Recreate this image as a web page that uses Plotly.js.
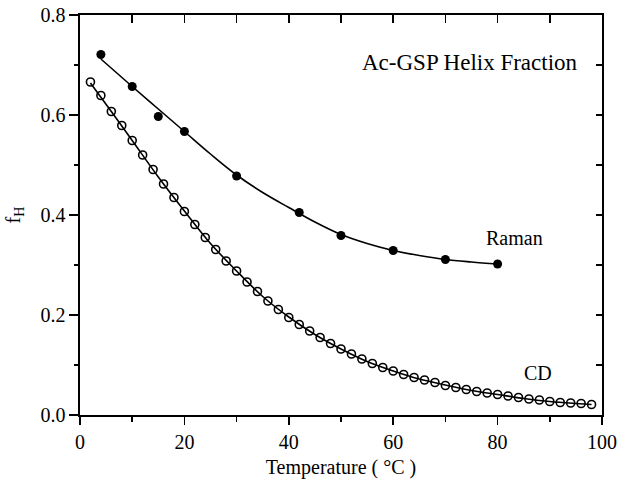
<!DOCTYPE html>
<html>
<head>
<meta charset="utf-8">
<script src="https://cdn.plot.ly/plotly-3.0.1.min.js"></script>
<style>html,body{margin:0;padding:0;background:#fff;}#chart{width:624px;height:486px;}</style>
</head>
<body>
<div id="chart"></div>
<script>
// Raman data (filled circles)
const ramanT = [4, 10, 15, 20, 30, 42, 50, 60, 70, 80];
const ramanF = [0.721, 0.657, 0.597, 0.567, 0.478, 0.405, 0.359, 0.329, 0.311, 0.302];
// Raman fit curve
const ramanFitT = [4, 10, 15, 20, 25, 30, 35, 40, 45, 50, 55, 60, 65, 70, 75, 80];
const ramanFitF = [0.712, 0.657, 0.612, 0.567, 0.522, 0.480, 0.445, 0.415, 0.386, 0.361, 0.343, 0.329, 0.319, 0.311, 0.306, 0.302];
// CD data (open circles)
const cdT = [2,4,6,8,10,12,14,16,18,20,22,24,26,28,30,32,34,36,38,40,42,44,46,48,50,52,54,56,58,60,62,64,66,68,70,72,74,76,78,80,82,84,86,88,90,92,94,96,98];
const cdF = [0.666,0.639,0.607,0.579,0.549,0.520,0.491,0.462,0.435,0.407,0.381,0.355,0.331,0.308,0.288,0.266,0.247,0.228,0.211,0.195,0.181,0.168,0.155,0.143,0.132,0.122,0.112,0.103,0.095,0.088,0.081,0.075,0.070,0.065,0.059,0.055,0.051,0.047,0.044,0.041,0.038,0.035,0.032,0.030,0.027,0.025,0.024,0.023,0.021];
// CD fit curve
const cdFitT = [2, 6, 10, 15, 20, 25, 30, 35, 40, 45, 50, 55, 60, 65, 70, 75, 80, 85, 90, 95, 98];
const cdFitF = [0.664, 0.607, 0.549, 0.476, 0.408, 0.343, 0.288, 0.237, 0.196, 0.161, 0.132, 0.107, 0.088, 0.072, 0.060, 0.049, 0.041, 0.033, 0.027, 0.023, 0.021];

const labels = {title: 'Ac-GSP Helix Fraction', raman: 'Raman', cd: 'CD', xTitle: 'Temperature ( °C )', yTitle: 'f<sub>H</sub>'};

const FONT = 'Liberation Serif, Times New Roman, serif';

const traces = [
  {x: ramanFitT, y: ramanFitF, mode: 'lines', line: {color: '#000', width: 1.6, shape: 'spline'}, hoverinfo: 'skip', showlegend: false},
  {x: cdFitT, y: cdFitF, mode: 'lines', line: {color: '#000', width: 1.6, shape: 'spline'}, hoverinfo: 'skip', showlegend: false},
  {x: cdT, y: cdF, mode: 'markers', marker: {symbol: 'circle-open', size: 8, color: '#000', line: {width: 1.6, color: '#000'}}, showlegend: false},
  {x: ramanT, y: ramanF, mode: 'markers', marker: {symbol: 'circle', size: 9, color: '#000'}, showlegend: false},
  {x: [], y: [], xaxis: 'x2', yaxis: 'y2', mode: 'markers', showlegend: false, hoverinfo: 'skip'}
];

const layout = {
  width: 624, height: 486,
  margin: {l: 80, r: 22, t: 15, b: 71},
  paper_bgcolor: '#fff', plot_bgcolor: '#fff',
  font: {family: FONT, size: 20, color: '#000'},
  showlegend: false,
  xaxis: {
    range: [0, 100], dtick: 20, tick0: 0,
    ticks: 'outside', ticklen: 8, tickwidth: 1.5, tickcolor: '#000',
    minor: {dtick: 10, ticks: 'outside', ticklen: 5, tickwidth: 1.5, tickcolor: '#000'},
    showline: true, linewidth: 1.6, linecolor: '#000',
    showgrid: false, zeroline: false,
    tickfont: {family: FONT, size: 20, color: '#000'},
    title: {text: labels.xTitle, font: {family: FONT, size: 20, color: '#000'}, standoff: 8}
  },
  yaxis: {
    range: [0, 0.8], dtick: 0.2, tick0: 0, tickformat: '.1f',
    ticks: 'outside', ticklen: 9, tickwidth: 1.5, tickcolor: '#000',
    minor: {dtick: 0.1, ticks: 'outside', ticklen: 4, tickwidth: 1.5, tickcolor: '#000'},
    showline: true, linewidth: 1.6, linecolor: '#000',
    showgrid: false, zeroline: false,
    tickfont: {family: FONT, size: 20, color: '#000'},
    title: {text: labels.yTitle, font: {family: FONT, size: 20, color: '#000'}, standoff: 14}
  },
  xaxis2: {
    overlaying: 'x', side: 'top', anchor: 'y2', range: [0, 100], dtick: 10, tick0: 0,
    ticks: 'inside', ticklen: 8, tickwidth: 1.5, tickcolor: '#000',
    showticklabels: false, showline: true, linewidth: 1.6, linecolor: '#000',
    showgrid: false, zeroline: false
  },
  yaxis2: {
    overlaying: 'y', side: 'right', anchor: 'x2', range: [0, 0.8], dtick: 0.1, tick0: 0,
    ticks: 'inside', ticklen: 6, tickwidth: 1.5, tickcolor: '#000',
    showticklabels: false, showline: true, linewidth: 1.6, linecolor: '#000',
    showgrid: false, zeroline: false
  },
  annotations: [
    {x: 74.7, y: 0.706, xref: 'x', yref: 'y', text: labels.title, showarrow: false, xanchor: 'center', yanchor: 'middle', font: {family: FONT, size: 23, color: '#000'}},
    {x: 83.3, y: 0.354, xref: 'x', yref: 'y', text: labels.raman, showarrow: false, xanchor: 'center', yanchor: 'middle', font: {family: FONT, size: 20, color: '#000'}},
    {x: 87.7, y: 0.084, xref: 'x', yref: 'y', text: labels.cd, showarrow: false, xanchor: 'center', yanchor: 'middle', font: {family: FONT, size: 20, color: '#000'}}
  ]
};

Plotly.newPlot('chart', traces, layout, {staticPlot: true, displayModeBar: false});
</script>
</body>
</html>
